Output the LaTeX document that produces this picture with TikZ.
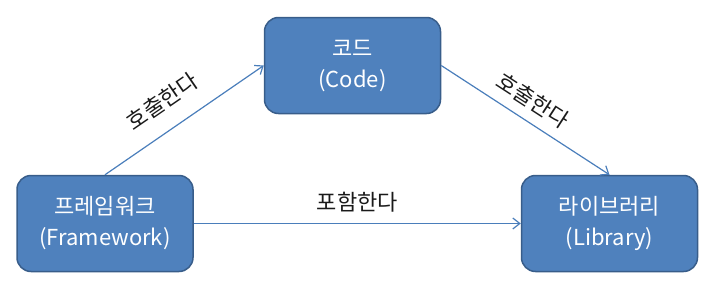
\documentclass[tikz,border=0pt]{standalone}
\usepackage{fontspec}
\setmainfont{Noto Sans CJK KR}
\definecolor{boxfill}{HTML}{4F81BD}
\definecolor{boxline}{HTML}{385D8A}
\definecolor{arrline}{HTML}{4A7EBB}
\definecolor{lbltext}{HTML}{1A1A1A}
\usetikzlibrary{arrows.meta, positioning}
\tikzset{
  box/.style={
    draw=boxline, fill=boxfill, line width=1.5pt, rounded corners=14pt,
    minimum width=176pt, minimum height=96pt, inner sep=0pt,
    font=\fontsize{22}{31}\selectfont, text=white, align=center
  },
  arr/.style={-{Straight Barb[length=7pt,width=11pt]}, line width=1.2pt, color=arrline},
  lbl/.style={font=\fontsize{22}{24}\selectfont, text=lbltext},
}
\begin{document}
\begin{tikzpicture}[x=1pt, y=-1pt]
  \useasboundingbox (0,0) rectangle (705,284);
  % Boxes
  \node[box] (code) at (352.5,65.5) {코드\\(Code)};
  \node[box] (fw) at (105,223.5) {프레임워크\\(Framework)};
  \node[box] (lib) at (609.5,223.5) {라이브러리\\(Library)};

  \draw[arr] (fw.north) -- node[lbl, sloped, above=14pt, pos=0.46] (call1) {호출한다} (code.west);
  \draw[arr] (code.east) -- node[lbl, sloped, above=7pt, pos=0.48] (call2) {호출한다} (lib.north);
  \draw[arr] (fw.east) -- node[lbl, above=7pt] (incl) {포함한다} (lib.west);
\end{tikzpicture}
\end{document}
